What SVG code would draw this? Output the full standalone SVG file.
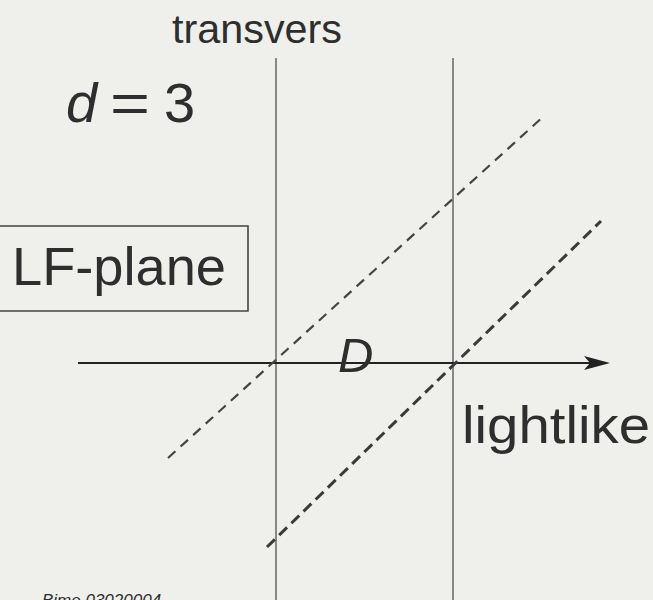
<svg xmlns="http://www.w3.org/2000/svg" width="653" height="600" viewBox="0 0 653 600">
<style>
.t{font-family:"Liberation Sans",Arial,sans-serif;fill:#2e2e2e}
.v{stroke:#6e6e6e;stroke-width:1.6;fill:none}
.d1{stroke:#444;stroke-width:2.2;stroke-dasharray:10 7;fill:none}
.d2{stroke:#3a3a3a;stroke-width:3;stroke-dasharray:11 6;fill:none}
</style>
<rect width="653" height="600" fill="#eff0eb"/>
<g id="connectors">
<line class="v" x1="276" y1="58" x2="276" y2="600"/>
<line class="v" x1="453" y1="58" x2="453" y2="600"/>
<line x1="78" y1="363" x2="600" y2="363" stroke="#222" stroke-width="2"/>
<path d="M584,356 L610,363 L584,370 L590,363 z" fill="#222"/>
<line class="d1" x1="168" y1="458" x2="545" y2="115"/>
<line class="d2" x1="267" y1="547" x2="601" y2="221"/>
</g>
<g id="lfplane">
<path d="M-2,226 H248 V311 H-2" fill="none" stroke="#444" stroke-width="1.6"/>
<text class="t" x="12" y="285" font-size="53" textLength="214" lengthAdjust="spacingAndGlyphs">LF-plane</text>
</g>
<g id="labels">
<text class="t" x="172" y="43" font-size="40" textLength="170" lengthAdjust="spacingAndGlyphs">transvers</text>
<text class="t" x="66" y="122" font-size="56" font-style="italic">d</text>
<text class="t" x="110" y="122" font-size="56" textLength="40" lengthAdjust="spacingAndGlyphs">=</text>
<text class="t" x="164" y="122" font-size="56">3</text>
<text class="t" x="338" y="372" font-size="49" font-style="italic">D</text>
<text class="t" x="462" y="443" font-size="52" textLength="188" lengthAdjust="spacingAndGlyphs">lightlike</text>
<text class="t" x="42" y="606" font-size="17" font-style="italic" fill="#222">Bime  03020004</text>
</g>
</svg>
